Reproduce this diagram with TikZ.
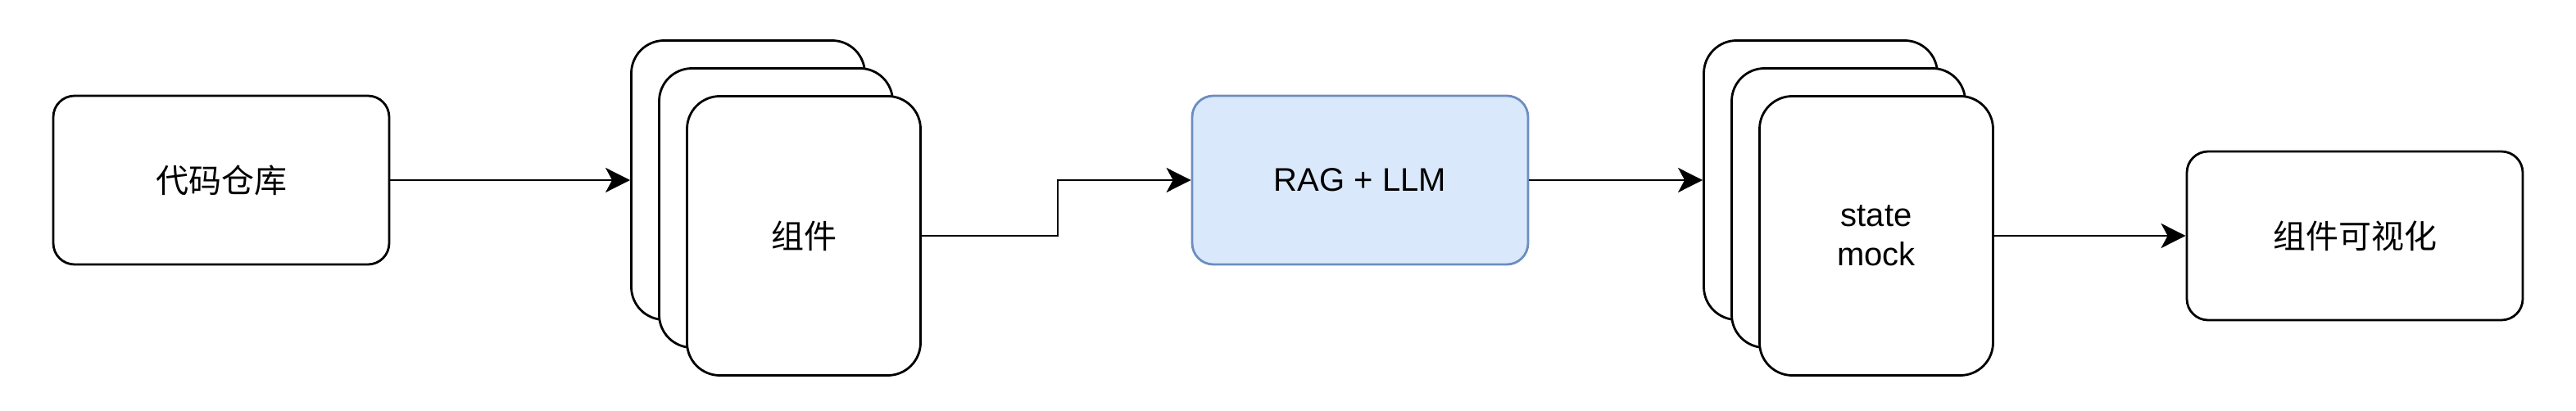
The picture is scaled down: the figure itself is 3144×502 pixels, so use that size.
\documentclass[tikz,border=0pt]{standalone}
\usepackage{fontspec}
\setmainfont{Liberation Sans}
\newfontfamily\cjk{Noto Sans CJK SC}
\usepackage{xcolor}
\usepackage{tikz}
\usetikzlibrary{arrows.meta, positioning, calc}
\definecolor{ragfill}{HTML}{DAE8FC}
\definecolor{ragline}{HTML}{6C8EBF}

\begin{document}
\begin{tikzpicture}[
    x=0.5pt, y=-0.5pt,
    box/.style={draw, rounded corners=13pt, line width=1.4pt, fill=white, minimum width=205pt, minimum height=103pt, align=center, font=\fontsize{20}{24}\selectfont},
    card/.style={draw, rounded corners=20pt, line width=1.4pt, fill=white, minimum width=142.5pt, minimum height=170.5pt, align=center, font=\fontsize{20}{24}\selectfont},
    arr/.style={-{Stealth[length=15pt, width=15pt, inset=4pt]}, line width=1.4pt},
]
    \useasboundingbox (0,0) rectangle (3144,502);

    % Repository
    \node[box] (repo) at (270,220) {\cjk 代码仓库};

    % Components stack
    \node[card] (compA) at (913,220) {};
    \node[card] (compB) at (947,254) {};
    \node[card] (comp) at (981,288) {\cjk 组件};

    % RAG + LLM
    \node[box, fill=ragfill, draw=ragline] (rag) at (1660,220) {RAG + LLM};

    % State mock stack
    \node[card] (mockA) at (2222,220) {};
    \node[card] (mockB) at (2256,254) {};
    \node[card] (mock) at (2290,288) {state\\mock};

    % Visualization
    \node[box] (vis) at (2874,288) {\cjk 组件可视化};

    % Connectors
    \draw[arr] (repo.east) -- (compA.west);
    \draw[arr] (comp.east) -- ++(166,0) |- (rag.west);
    \draw[arr] (rag.east) -- (mockA.west);
    \draw[arr] (mock.east) -- (vis.west);
\end{tikzpicture}
\end{document}
